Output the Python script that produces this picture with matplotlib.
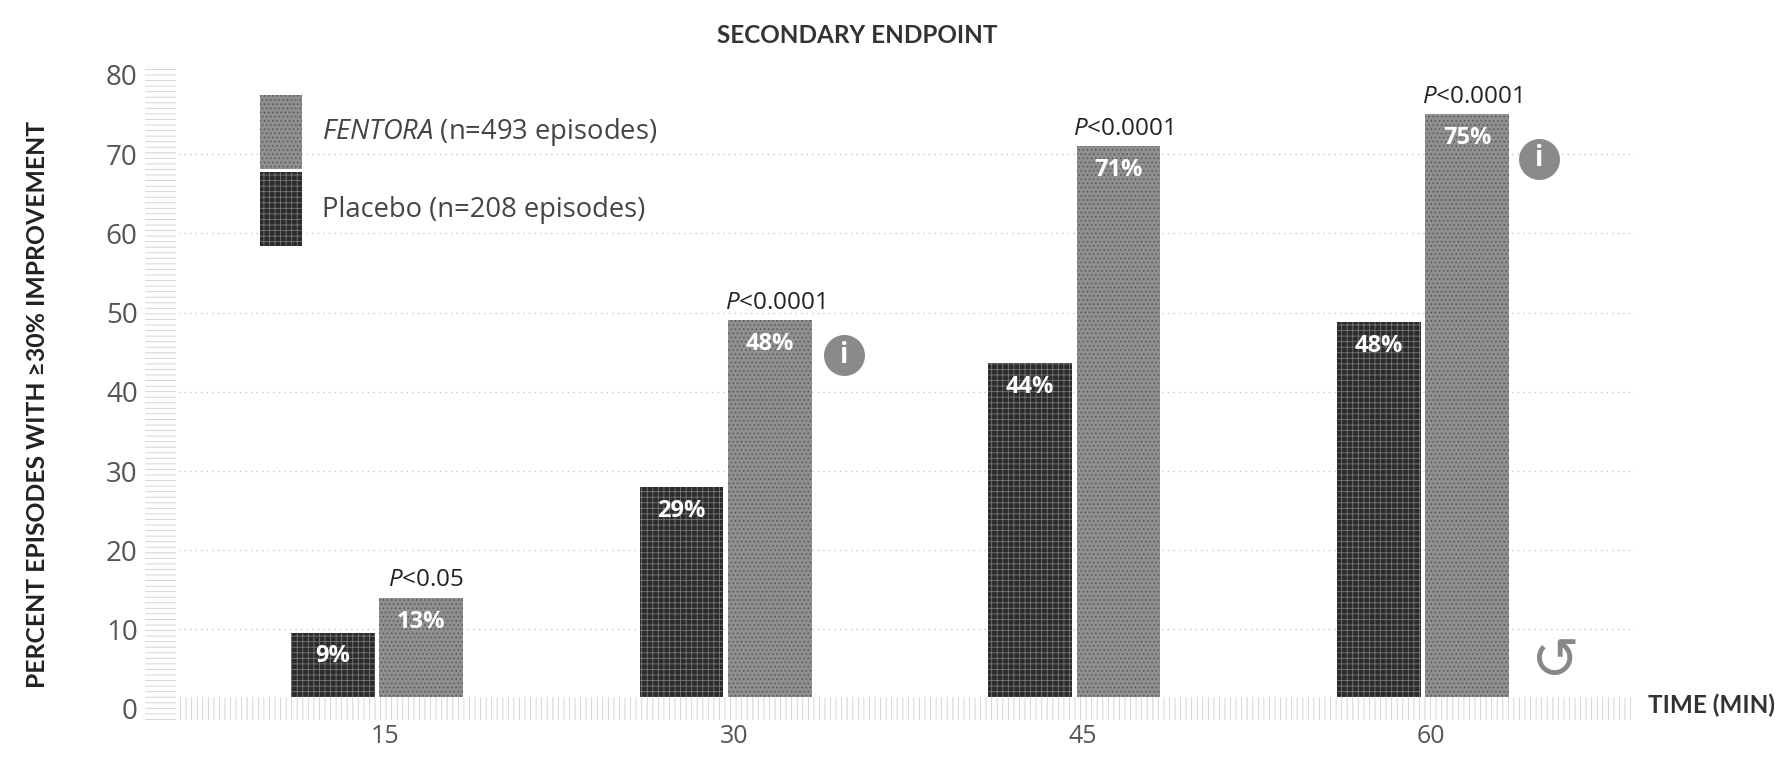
import numpy as np
import matplotlib
matplotlib.use('Agg')
import matplotlib.pyplot as plt
from matplotlib.transforms import ScaledTranslation

plt.rcParams['font.family'] = ['Open Sans', 'DejaVu Sans']
plt.rcParams['mathtext.fontset'] = 'custom'
plt.rcParams['mathtext.it'] = 'Open Sans:italic'
plt.rcParams['mathtext.rm'] = 'Open Sans'
plt.rcParams['hatch.linewidth'] = 0.6

minutes = [15, 30, 45, 60]
placebo = [9.6, 28, 43.6, 48.8]
fentora = [14, 49, 71, 75]
placebo_labels = ['9%', '29%', '44%', '48%']
fentora_labels = ['13%', '48%', '71%', '75%']
p_values = ['<0.05', '<0.0001', '<0.0001', '<0.0001']
y_ticks = [0, 10, 20, 30, 40, 50, 60, 70, 80]
heading = ['Lato', 'DejaVu Sans']
dark = '#2b2b2b'
mid = '#8f8f8f'

fig = plt.figure(figsize=(17.86, 7.68), dpi=100)
# axes runs from the left band to the end of the baseline band
ax = fig.add_axes([127 / 1568, 1 - 632 / 674, (1435 - 127) / 1568, (632 - 58) / 674])
ax.set_xlim(5.0, 69.1)
ax.set_ylim(-1.44, 81.1)
for s in ax.spines.values():
    s.set_visible(False)
ax.tick_params(length=0, labelcolor='#555555')
ax.tick_params(axis='y', pad=5, labelsize=20)
ax.tick_params(axis='x', pad=3, labelsize=18)
ax.set_yticks(y_ticks)
ax.set_xticks(minutes)
# the minute labels sit slightly right of the bar pairs
shift = ScaledTranslation(6 / 72, 0, fig.dpi_scale_trans)
for lab in ax.get_xticklabels():
    lab.set_transform(lab.get_transform() + shift)

for y in y_ticks[1:-1]:
    ax.axhline(y, color='#c8c8c8', lw=1, ls=(0, (1, 3)), zorder=0)

w = 3.6
off = 1.9
b1 = ax.bar(np.array(minutes) - off, placebo, w, color=dark, hatch='+++', edgecolor='#777777', lw=0, zorder=2)
b2 = ax.bar(np.array(minutes) + off, fentora, w, color=mid, hatch='....', edgecolor='#555555', lw=0, zorder=2)

# the two pale bands for the axes
ax.axhspan(-1.44, 1.44, facecolor='white', hatch='|||', edgecolor='#cfcfcf', lw=0, zorder=3)
ax.axvspan(5.0, 6.37, facecolor='white', hatch='---', edgecolor='#cfcfcf', lw=0, zorder=3)

for m, v, lab in zip(minutes, placebo, placebo_labels):
    ax.text(m - off, v - 3, lab, ha='center', va='center', color='white', fontsize=17, fontweight='bold', zorder=4)
for m, v, lab, p in zip(minutes, fentora, fentora_labels, p_values):
    ax.text(m + off, v - 3, lab, ha='center', va='center', color='white', fontsize=17, fontweight='bold', zorder=4)
    ax.text(m + off + 0.2, v + 0.7, r'$\mathit{P}$' + p, ha='center', va='bottom', color='#222222', fontsize=17.5, zorder=4)

# info badges beside the 30 and 60 min bars
for bx, by in [(35.1, 44.6), (65.0, 69.4)]:
    ax.scatter([bx], [by], s=870, color='#8a8a8a', lw=0, zorder=4)
    ax.text(bx, by, 'i', ha='center', va='center', color='white', fontsize=20, fontweight='bold', zorder=5)

ax.text(65.7, 5.8, '\u21ba', ha='center', va='center', color='#888888', fontsize=42,
        family=['DejaVu Sans'], zorder=4)

ax.legend(handles=[b2, b1], labels=[r'$\mathit{FENTORA}$ (n=493 episodes)', 'Placebo (n=208 episodes)'],
          loc='upper left', bbox_to_anchor=(0.0772, 0.956), frameon=False, fontsize=19.7,
          labelcolor='#444444', handlelength=1.54, handleheight=3.78, handletextpad=0.75,
          labelspacing=0.13, borderaxespad=0, borderpad=0)

fig.text(753 / 1568, 1 - 31 / 674, 'SECONDARY ENDPOINT', ha='center', va='center', fontsize=17.5,
         fontweight='bold', color='#333333', family=heading)
fig.text(33 / 1568, 1 - 355 / 674, 'PERCENT EPISODES WITH \u226530% IMPROVEMENT', rotation=90, ha='center',
         va='center', fontsize=17.8, fontweight='bold', color='#222222', family=heading)
fig.text(1503 / 1568, 1 - 619 / 674, 'TIME (MIN)', ha='center', va='center', fontsize=17.5,
         fontweight='bold', color='#333333', family=heading)

fig.savefig('out.png', dpi=100)
